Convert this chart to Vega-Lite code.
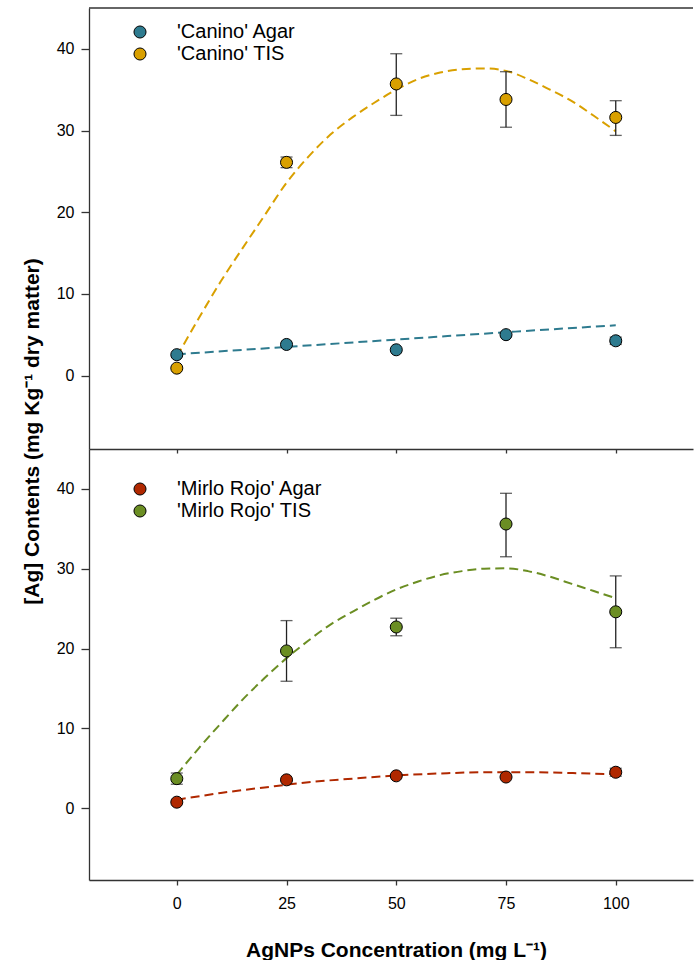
{
  "$schema": "https://vega.github.io/schema/vega-lite/v6.json",
  "padding": {"left": 21, "top": 7, "right": 0, "bottom": 0},
  "background": "white",
  "spacing": 0,
  "bounds": "flush",
  "config": {
    "view": {"stroke": null},
    "axis": {
      "domainColor": "#333333", "tickColor": "#333333", "labelColor": "black", "grid": false,
      "labelFont": "Arial", "labelFontSize": 16, "titleFont": "Arial",
      "titleFontSize": 21, "titleFontWeight": "bold", "titleColor": "black",
      "domainWidth": 1.3, "tickWidth": 1.3
    },
    "legend": {
      "labelFont": "Arial", "labelFontSize": 20, "labelColor": "black",
      "symbolType": "circle", "symbolSize": 145, "symbolStrokeColor": "black", "symbolStrokeWidth": 1,
      "labelOffset": 27, "rowPadding": 2, "padding": 0
    }
  },
  "datasets": {
    "points": [
      {"panel": "Canino", "series": "'Canino' Agar", "x": 0, "y": 2.55},
      {"panel": "Canino", "series": "'Canino' Agar", "x": 25, "y": 3.8},
      {"panel": "Canino", "series": "'Canino' Agar", "x": 50, "y": 3.15},
      {"panel": "Canino", "series": "'Canino' Agar", "x": 75, "y": 5.0},
      {"panel": "Canino", "series": "'Canino' Agar", "x": 100, "y": 4.25, "lo": 3.8, "hi": 4.7},
      {"panel": "Canino", "series": "'Canino' TIS", "x": 0, "y": 0.9},
      {"panel": "Canino", "series": "'Canino' TIS", "x": 25, "y": 26.1, "lo": 25.45, "hi": 26.75},
      {"panel": "Canino", "series": "'Canino' TIS", "x": 50, "y": 35.7, "lo": 31.85, "hi": 39.4},
      {"panel": "Canino", "series": "'Canino' TIS", "x": 75, "y": 33.8, "lo": 30.4, "hi": 37.2},
      {"panel": "Canino", "series": "'Canino' TIS", "x": 100, "y": 31.6, "lo": 29.4, "hi": 33.65},
      {"panel": "Mirlo", "series": "'Mirlo Rojo' Agar", "x": 0, "y": 0.75},
      {"panel": "Mirlo", "series": "'Mirlo Rojo' Agar", "x": 25, "y": 3.55},
      {"panel": "Mirlo", "series": "'Mirlo Rojo' Agar", "x": 50, "y": 4.05},
      {"panel": "Mirlo", "series": "'Mirlo Rojo' Agar", "x": 75, "y": 3.9},
      {"panel": "Mirlo", "series": "'Mirlo Rojo' Agar", "x": 100, "y": 4.5, "lo": 4.0, "hi": 5.0},
      {"panel": "Mirlo", "series": "'Mirlo Rojo' TIS", "x": 0, "y": 3.7, "lo": 3.0, "hi": 4.4},
      {"panel": "Mirlo", "series": "'Mirlo Rojo' TIS", "x": 25, "y": 19.7, "lo": 15.9, "hi": 23.5},
      {"panel": "Mirlo", "series": "'Mirlo Rojo' TIS", "x": 50, "y": 22.7, "lo": 21.6, "hi": 23.8},
      {"panel": "Mirlo", "series": "'Mirlo Rojo' TIS", "x": 75, "y": 35.6, "lo": 31.5, "hi": 39.45},
      {"panel": "Mirlo", "series": "'Mirlo Rojo' TIS", "x": 100, "y": 24.6, "lo": 20.1, "hi": 29.1}
    ],
    "curves": [
      {"series": "'Canino' Agar", "x": 0, "y": 2.6},
      {"series": "'Canino' Agar", "x": 25, "y": 3.5},
      {"series": "'Canino' Agar", "x": 50, "y": 4.4},
      {"series": "'Canino' Agar", "x": 75, "y": 5.3},
      {"series": "'Canino' Agar", "x": 100, "y": 6.15},
      {"series": "'Canino' TIS", "x": 0, "y": 2.3},
      {"series": "'Canino' TIS", "x": 5, "y": 7.0},
      {"series": "'Canino' TIS", "x": 10, "y": 11.5},
      {"series": "'Canino' TIS", "x": 15, "y": 15.6},
      {"series": "'Canino' TIS", "x": 20, "y": 19.6},
      {"series": "'Canino' TIS", "x": 25, "y": 23.6},
      {"series": "'Canino' TIS", "x": 30, "y": 26.8},
      {"series": "'Canino' TIS", "x": 35, "y": 29.5},
      {"series": "'Canino' TIS", "x": 40, "y": 31.6},
      {"series": "'Canino' TIS", "x": 45, "y": 33.4},
      {"series": "'Canino' TIS", "x": 50, "y": 35.0},
      {"series": "'Canino' TIS", "x": 55, "y": 36.3},
      {"series": "'Canino' TIS", "x": 60, "y": 37.1},
      {"series": "'Canino' TIS", "x": 65, "y": 37.5},
      {"series": "'Canino' TIS", "x": 70, "y": 37.6},
      {"series": "'Canino' TIS", "x": 75, "y": 37.3},
      {"series": "'Canino' TIS", "x": 80, "y": 36.3},
      {"series": "'Canino' TIS", "x": 85, "y": 35.0},
      {"series": "'Canino' TIS", "x": 90, "y": 33.6},
      {"series": "'Canino' TIS", "x": 95, "y": 31.8},
      {"series": "'Canino' TIS", "x": 100, "y": 29.9},
      {"series": "'Mirlo Rojo' Agar", "x": 0, "y": 1.05},
      {"series": "'Mirlo Rojo' Agar", "x": 10, "y": 1.9},
      {"series": "'Mirlo Rojo' Agar", "x": 20, "y": 2.6},
      {"series": "'Mirlo Rojo' Agar", "x": 30, "y": 3.25},
      {"series": "'Mirlo Rojo' Agar", "x": 40, "y": 3.7},
      {"series": "'Mirlo Rojo' Agar", "x": 50, "y": 4.1},
      {"series": "'Mirlo Rojo' Agar", "x": 60, "y": 4.35},
      {"series": "'Mirlo Rojo' Agar", "x": 70, "y": 4.5},
      {"series": "'Mirlo Rojo' Agar", "x": 80, "y": 4.5},
      {"series": "'Mirlo Rojo' Agar", "x": 90, "y": 4.4},
      {"series": "'Mirlo Rojo' Agar", "x": 100, "y": 4.25},
      {"series": "'Mirlo Rojo' TIS", "x": 0, "y": 4.2},
      {"series": "'Mirlo Rojo' TIS", "x": 5, "y": 7.5},
      {"series": "'Mirlo Rojo' TIS", "x": 10, "y": 10.6},
      {"series": "'Mirlo Rojo' TIS", "x": 15, "y": 13.6},
      {"series": "'Mirlo Rojo' TIS", "x": 20, "y": 16.3},
      {"series": "'Mirlo Rojo' TIS", "x": 25, "y": 18.8},
      {"series": "'Mirlo Rojo' TIS", "x": 30, "y": 21.0},
      {"series": "'Mirlo Rojo' TIS", "x": 35, "y": 23.0},
      {"series": "'Mirlo Rojo' TIS", "x": 40, "y": 24.6},
      {"series": "'Mirlo Rojo' TIS", "x": 45, "y": 26.1},
      {"series": "'Mirlo Rojo' TIS", "x": 50, "y": 27.4},
      {"series": "'Mirlo Rojo' TIS", "x": 55, "y": 28.4},
      {"series": "'Mirlo Rojo' TIS", "x": 60, "y": 29.2},
      {"series": "'Mirlo Rojo' TIS", "x": 65, "y": 29.7},
      {"series": "'Mirlo Rojo' TIS", "x": 70, "y": 30.0},
      {"series": "'Mirlo Rojo' TIS", "x": 75, "y": 30.05},
      {"series": "'Mirlo Rojo' TIS", "x": 80, "y": 29.7},
      {"series": "'Mirlo Rojo' TIS", "x": 85, "y": 29.0},
      {"series": "'Mirlo Rojo' TIS", "x": 90, "y": 28.1},
      {"series": "'Mirlo Rojo' TIS", "x": 95, "y": 27.2},
      {"series": "'Mirlo Rojo' TIS", "x": 100, "y": 26.3}
    ]
  },
  "vconcat": [
    {
      "width": 604,
      "height": 441,
      "layer": [
        {
          "data": {"values": [{"edge": 45}]},
          "mark": {"type": "rule", "color": "#333333", "strokeWidth": 1.3},
          "encoding": {
            "y": {"field": "edge", "type": "quantitative", "scale": {"domain": [-9, 45], "nice": false, "zero": false},
                  "axis": {"values": [0, 10, 20, 30, 40], "tickSize": 8, "labelPadding": 7, "titlePadding": 14, "title": "[Ag] Contents (mg Kg⁻¹ dry matter)", "titleY": 423}}
          }
        },
        {
          "data": {"name": "curves"},
          "transform": [{"filter": "datum.series === \"'Canino' Agar\""}],
          "mark": {"type": "line", "strokeDash": [9, 5], "strokeWidth": 2, "interpolate": "monotone", "color": "#2E7B8F"},
          "encoding": {
            "x": {"field": "x", "type": "quantitative", "scale": {"domain": [-20, 117.6], "nice": false, "zero": false},
                  "axis": {"values": [0, 25, 50, 75, 100], "tickSize": 4, "labels": false, "title": null}},
            "y": {"field": "y", "type": "quantitative", "scale": {"domain": [-9, 45], "nice": false, "zero": false},
                  "axis": {"values": [0, 10, 20, 30, 40], "tickSize": 8, "labelPadding": 7, "titlePadding": 14, "title": "[Ag] Contents (mg Kg⁻¹ dry matter)", "titleY": 423}}
          }
        },
        {
          "data": {"name": "curves"},
          "transform": [{"filter": "datum.series === \"'Canino' TIS\""}],
          "mark": {"type": "line", "strokeDash": [9, 5], "strokeWidth": 2, "interpolate": "monotone", "color": "#D9A000"},
          "encoding": {
            "x": {"field": "x", "type": "quantitative", "scale": {"domain": [-20, 117.6], "nice": false, "zero": false},
                  "axis": {"values": [0, 25, 50, 75, 100], "tickSize": 4, "labels": false, "title": null}},
            "y": {"field": "y", "type": "quantitative", "scale": {"domain": [-9, 45], "nice": false, "zero": false},
                  "axis": {"values": [0, 10, 20, 30, 40], "tickSize": 8, "labelPadding": 7, "titlePadding": 14, "title": "[Ag] Contents (mg Kg⁻¹ dry matter)", "titleY": 423}}
          }
        },
        {
          "data": {"name": "points"},
          "transform": [{"filter": "datum.panel === 'Canino' && datum.lo != null"}],
          "mark": {"type": "errorbar", "ticks": {"size": 12, "thickness": 1.3, "color": "#222222"}, "rule": {"strokeWidth": 1.3, "color": "#222222"}},
          "encoding": {
            "x": {"field": "x", "type": "quantitative", "scale": {"domain": [-20, 117.6], "nice": false, "zero": false},
                  "axis": {"values": [0, 25, 50, 75, 100], "tickSize": 4, "labels": false, "title": null}},
            "y": {"field": "lo", "type": "quantitative", "scale": {"domain": [-9, 45], "nice": false, "zero": false},
                  "axis": {"values": [0, 10, 20, 30, 40], "tickSize": 8, "labelPadding": 7, "titlePadding": 14, "title": "[Ag] Contents (mg Kg⁻¹ dry matter)", "titleY": 423}},
            "y2": {"field": "hi"}
          }
        },
        {
          "data": {"name": "points"},
          "transform": [{"filter": "datum.panel === 'Canino'"}],
          "mark": {"type": "point", "shape": "circle", "filled": true, "size": 145, "stroke": "black", "strokeWidth": 1, "opacity": 1},
          "encoding": {
            "x": {"field": "x", "type": "quantitative", "scale": {"domain": [-20, 117.6], "nice": false, "zero": false},
                  "axis": {"values": [0, 25, 50, 75, 100], "tickSize": 4, "labels": false, "title": null}},
            "y": {"field": "y", "type": "quantitative", "scale": {"domain": [-9, 45], "nice": false, "zero": false},
                  "axis": {"values": [0, 10, 20, 30, 40], "tickSize": 8, "labelPadding": 7, "titlePadding": 14, "title": "[Ag] Contents (mg Kg⁻¹ dry matter)", "titleY": 423}},
            "fill": {"field": "series", "type": "nominal",
                     "scale": {"domain": ["'Canino' Agar", "'Canino' TIS"], "range": ["#2E7B8F", "#D9A000"]},
                     "legend": {"title": null, "orient": "none", "legendX": 41, "legendY": 14}}
          }
        }
      ]
    },
    {
      "width": 604,
      "height": 431,
      "layer": [
        {
          "data": {"name": "curves"},
          "transform": [{"filter": "datum.series === \"'Mirlo Rojo' Agar\""}],
          "mark": {"type": "line", "strokeDash": [9, 5], "strokeWidth": 2, "interpolate": "monotone", "color": "#B02800"},
          "encoding": {
            "x": {"field": "x", "type": "quantitative", "scale": {"domain": [-20, 117.6], "nice": false, "zero": false},
                  "axis": {"values": [0, 25, 50, 75, 100], "tickSize": 5, "labelPadding": 10, "titlePadding": 28, "title": "AgNPs Concentration (mg L⁻¹)", "titleX": 307}},
            "y": {"field": "y", "type": "quantitative", "scale": {"domain": [-9, 45], "nice": false, "zero": false},
                  "axis": {"values": [0, 10, 20, 30, 40], "tickSize": 8, "labelPadding": 7, "title": null}}
          }
        },
        {
          "data": {"name": "curves"},
          "transform": [{"filter": "datum.series === \"'Mirlo Rojo' TIS\""}],
          "mark": {"type": "line", "strokeDash": [9, 5], "strokeWidth": 2, "interpolate": "monotone", "color": "#6B8E23"},
          "encoding": {
            "x": {"field": "x", "type": "quantitative", "scale": {"domain": [-20, 117.6], "nice": false, "zero": false},
                  "axis": {"values": [0, 25, 50, 75, 100], "tickSize": 5, "labelPadding": 10, "titlePadding": 28, "title": "AgNPs Concentration (mg L⁻¹)", "titleX": 307}},
            "y": {"field": "y", "type": "quantitative", "scale": {"domain": [-9, 45], "nice": false, "zero": false},
                  "axis": {"values": [0, 10, 20, 30, 40], "tickSize": 8, "labelPadding": 7, "title": null}}
          }
        },
        {
          "data": {"name": "points"},
          "transform": [{"filter": "datum.panel === 'Mirlo' && datum.lo != null"}],
          "mark": {"type": "errorbar", "ticks": {"size": 12, "thickness": 1.3, "color": "#222222"}, "rule": {"strokeWidth": 1.3, "color": "#222222"}},
          "encoding": {
            "x": {"field": "x", "type": "quantitative", "scale": {"domain": [-20, 117.6], "nice": false, "zero": false},
                  "axis": {"values": [0, 25, 50, 75, 100], "tickSize": 5, "labelPadding": 10, "titlePadding": 28, "title": "AgNPs Concentration (mg L⁻¹)", "titleX": 307}},
            "y": {"field": "lo", "type": "quantitative", "scale": {"domain": [-9, 45], "nice": false, "zero": false},
                  "axis": {"values": [0, 10, 20, 30, 40], "tickSize": 8, "labelPadding": 7, "title": null}},
            "y2": {"field": "hi"}
          }
        },
        {
          "data": {"name": "points"},
          "transform": [{"filter": "datum.panel === 'Mirlo'"}],
          "mark": {"type": "point", "shape": "circle", "filled": true, "size": 145, "stroke": "black", "strokeWidth": 1, "opacity": 1},
          "encoding": {
            "x": {"field": "x", "type": "quantitative", "scale": {"domain": [-20, 117.6], "nice": false, "zero": false},
                  "axis": {"values": [0, 25, 50, 75, 100], "tickSize": 5, "labelPadding": 10, "titlePadding": 28, "title": "AgNPs Concentration (mg L⁻¹)", "titleX": 307}},
            "y": {"field": "y", "type": "quantitative", "scale": {"domain": [-9, 45], "nice": false, "zero": false},
                  "axis": {"values": [0, 10, 20, 30, 40], "tickSize": 8, "labelPadding": 7, "title": null}},
            "fill": {"field": "series", "type": "nominal",
                     "scale": {"domain": ["'Mirlo Rojo' Agar", "'Mirlo Rojo' TIS"], "range": ["#B02800", "#6B8E23"]},
                     "legend": {"title": null, "orient": "none", "legendX": 41, "legendY": 30}}
          }
        }
      ]
    }
  ],
  "resolve": {"scale": {"fill": "independent"}, "legend": {"fill": "independent"}}
}
